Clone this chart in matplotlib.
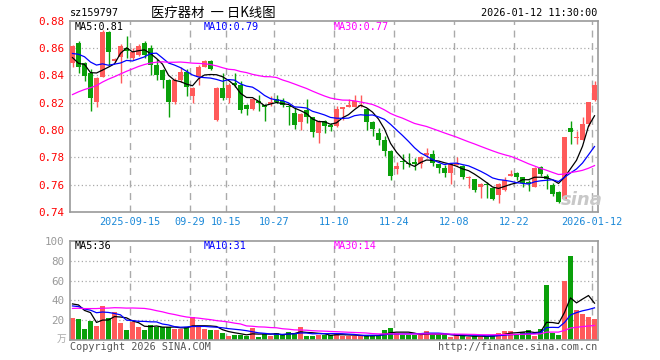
import numpy as np
import pandas as pd
import matplotlib
matplotlib.use("Agg")
import matplotlib.pyplot as plt

# ---------------- data ----------------
open_ = [0.8488, 0.8635, 0.8493, 0.8420, 0.8208, 0.8391, 0.8720, 0.8505, 0.8532, 0.8598,
         0.8525, 0.8550, 0.8640, 0.8600, 0.8476, 0.8440, 0.8366, 0.8208, 0.8366, 0.8427,
         0.8252, 0.8386, 0.8464, 0.8505, 0.8073, 0.8305, 0.8232, 0.8342, 0.8330, 0.8183,
         0.8152, 0.8215, 0.8183, 0.8190, 0.8225, 0.8215, 0.8176, 0.8127, 0.8061, 0.8146,
         0.8093, 0.7980, 0.8069, 0.8040, 0.8030, 0.8156, 0.8171, 0.8171, 0.8176, 0.8154,
         0.8059, 0.7978, 0.7927, 0.7849, 0.7717, 0.7775, 0.7761, 0.7766, 0.7751, 0.7817,
         0.7825, 0.7751, 0.7722, 0.7688, 0.7747, 0.7737, 0.7649, 0.7639, 0.7581, 0.7605,
         0.7578, 0.7527, 0.7561, 0.7666, 0.7688, 0.7654, 0.7622, 0.7585, 0.7727, 0.7666,
         0.7598, 0.7544, 0.7495, 0.8017, 0.7939, 0.7927, 0.8042, 0.8220]
high = [0.8620, 0.8652, 0.8500, 0.8445, 0.8390, 0.8735, 0.8725, 0.8530, 0.8630, 0.8688,
        0.8598, 0.8630, 0.8652, 0.8625, 0.8518, 0.8445, 0.8370, 0.8378, 0.8459, 0.8444,
        0.8318, 0.8476, 0.8513, 0.8513, 0.8313, 0.8415, 0.8342, 0.8420, 0.8359, 0.8190,
        0.8232, 0.8256, 0.8190, 0.8249, 0.8256, 0.8232, 0.8183, 0.8171, 0.8127, 0.8225,
        0.8098, 0.8076, 0.8076, 0.8049, 0.8176, 0.8171, 0.8230, 0.8256, 0.8256, 0.8160,
        0.8069, 0.8012, 0.7956, 0.7854, 0.7768, 0.7825, 0.7832, 0.7793, 0.7810, 0.7871,
        0.7854, 0.7751, 0.7744, 0.7761, 0.7800, 0.7744, 0.7666, 0.7639, 0.7610, 0.7622,
        0.7585, 0.7610, 0.7659, 0.7707, 0.7695, 0.7654, 0.7634, 0.7727, 0.7734, 0.7678,
        0.7610, 0.7554, 0.7951, 0.8069, 0.7993, 0.8098, 0.8208, 0.8361]
low = [0.8464, 0.8415, 0.8361, 0.8142, 0.8171, 0.8385, 0.8476, 0.8495, 0.8342, 0.8525,
       0.8515, 0.8540, 0.8525, 0.8403, 0.8366, 0.8305, 0.8093, 0.8191, 0.8354, 0.8252,
       0.8196, 0.8330, 0.8459, 0.8437, 0.8066, 0.8220, 0.8200, 0.8317, 0.8127, 0.8110,
       0.8145, 0.8142, 0.8069, 0.8176, 0.8198, 0.8166, 0.8037, 0.8005, 0.8000, 0.8054,
       0.7947, 0.7903, 0.7980, 0.7996, 0.8025, 0.8076, 0.8166, 0.8166, 0.8166, 0.8000,
       0.7956, 0.7890, 0.7810, 0.7634, 0.7678, 0.7712, 0.7730, 0.7705, 0.7720, 0.7795,
       0.7737, 0.7688, 0.7654, 0.7605, 0.7744, 0.7639, 0.7573, 0.7549, 0.7500, 0.7500,
       0.7488, 0.7468, 0.7556, 0.7661, 0.7634, 0.7581, 0.7556, 0.7580, 0.7661, 0.7571,
       0.7520, 0.7464, 0.7488, 0.7898, 0.7898, 0.7927, 0.8032, 0.8212]
close = [0.8615, 0.8464, 0.8398, 0.8232, 0.8378, 0.8720, 0.8574, 0.8517, 0.8615, 0.8580,
         0.8574, 0.8615, 0.8550, 0.8476, 0.8403, 0.8366, 0.8208, 0.8366, 0.8427, 0.8313,
         0.8305, 0.8464, 0.8505, 0.8444, 0.8305, 0.8232, 0.8330, 0.8330, 0.8147, 0.8152,
         0.8227, 0.8195, 0.8170, 0.8208, 0.8208, 0.8183, 0.8166, 0.8037, 0.8117, 0.8098,
         0.7988, 0.8069, 0.8030, 0.8025, 0.8152, 0.8171, 0.8183, 0.8215, 0.8186, 0.8061,
         0.8010, 0.7929, 0.7849, 0.7664, 0.7737, 0.7768, 0.7749, 0.7751, 0.7805, 0.7829,
         0.7756, 0.7725, 0.7688, 0.7751, 0.7756, 0.7659, 0.7659, 0.7561, 0.7603, 0.7598,
         0.7495, 0.7605, 0.7634, 0.7678, 0.7654, 0.7610, 0.7605, 0.7725, 0.7678, 0.7639,
         0.7532, 0.7471, 0.7951, 0.7988, 0.7951, 0.8044, 0.8208, 0.8330]
volume = [22.8, 21.4, 11.4, 19.7, 14.4, 34.5, 22.1, 28.4, 17.4, 10.4,
          18.7, 13.7, 10.4, 15.4, 13.7, 13.1, 13.1, 11.4, 11.4, 13.1,
          23.4, 13.7, 11.4, 10.4, 10.4, 7.4, 4.4, 5.4, 5.4, 4.7,
          12.4, 3.3, 6.0, 4.4, 7.4, 6.0, 8.4, 7.4, 13.4, 4.4,
          4.4, 5.4, 5.4, 5.4, 7.4, 4.4, 4.4, 4.4, 4.4, 4.4,
          5.4, 5.4, 10.4, 12.4, 7.4, 5.4, 5.4, 5.4, 5.4, 9.4,
          5.4, 5.4, 5.4, 3.3, 5.4, 4.4, 3.3, 4.4, 3.3, 4.4,
          5.4, 7.4, 9.4, 9.4, 6.4, 8.4, 10.4, 4.4, 11.4, 55.6,
          7.4, 5.4, 59.9, 84.7, 30.5, 26.4, 23.4, 21.4]
# sessions before the first visible day (only feed the moving averages)
prior_close = [0.786, 0.789, 0.784, 0.790, 0.795, 0.793, 0.798, 0.802, 0.800, 0.805,
               0.808, 0.812, 0.815, 0.822, 0.828, 0.831, 0.836, 0.838, 0.842, 0.844,
               0.852, 0.858, 0.862, 0.860, 0.863, 0.8674, 0.8438, 0.8532, 0.8391]
prior_volume = [16, 22, 19, 14, 24, 18, 17, 21, 19, 15, 20, 17.5,
                42, 55, 48, 60, 45, 52, 47, 43.5,
                28, 36, 31, 40, 27.5, 26.4, 38.9, 30.7, 63.7]

tick_index = [10, 20, 26, 34, 44, 54, 64, 74, 87]
tick_labels = ["2025-09-15", "09-29", "10-15", "10-27", "11-10",
               "11-24", "12-08", "12-22", "2026-01-12"]
price_ticks = [0.74, 0.76, 0.78, 0.80, 0.82, 0.84, 0.86, 0.88]
vol_ticks = [20, 40, 60, 80, 100]
price_ma_labels = ["MA5:0.81", "MA10:0.79", "MA30:0.77"]
vol_ma_labels = ["MA5:36", "MA10:31", "MA30:14"]

# ---------------- style ----------------
W, H = 660, 360
RED = "#ff5a5a"
GREEN = "#0aa00a"
MA_COLORS = ["#000000", "#0000ff", "#ff00ff"]
GRID = "#aaaaaa"
FRAME = "#9a9a9a"
MONO = "DejaVu Sans Mono"
CJK = ["Noto Sans CJK SC", "DejaVu Sans"]
FS = 7.3

fig = plt.figure(figsize=(W / 100, H / 100), dpi=100)
fig.patch.set_facecolor("white")


def rect(l, t, r, b):
    return [l / W, 1 - b / H, (r - l) / W, (b - t) / H]


def ftext(x, y, s, **kw):
    fig.text(x / W, 1 - y / H, s, **kw)


ax = fig.add_axes(rect(70, 20.7, 597.5, 212))
axv = fig.add_axes(rect(70, 240.7, 597.5, 340.3))

n = len(close)
idx = np.arange(n)
o = np.array(open_); c = np.array(close); h = np.array(high); l = np.array(low)
v = np.array(volume)
up = c >= o
colors = [RED if u else GREEN for u in up]

full_c = pd.Series(prior_close + close)
full_v = pd.Series(prior_volume + volume)
ma_p = [full_c.rolling(k).mean().values[-n:] for k in (5, 10, 30)]
ma_v = [full_v.rolling(k).mean().values[-n:] for k in (5, 10, 30)]

xl = (-2.5 / 6, n - 0.5)
bw = 5 / 6

for a in (ax, axv):
    a.set_xlim(*xl)
    for s in a.spines.values():
        s.set_color(FRAME)
        s.set_linewidth(1.2)
    a.set_xticks([])
    a.tick_params(axis="y", length=0, pad=4)
    for ti in tick_index:
        a.axvline(ti - 2.5 / 6, color=GRID, lw=1.0, ls=(0, (5, 4)), zorder=0)

# ---- price panel ----
ax.set_ylim(price_ticks[0], price_ticks[-1])
ax.set_yticks(price_ticks)
ax.set_yticklabels([f"{t:.2f}" for t in price_ticks], color="#ff0000",
                   fontsize=FS + 0.5, family=MONO)
for t in price_ticks[1:-1]:
    ax.axhline(t, color=GRID, lw=0.9, ls=(0, (1, 2)), zorder=0)

body = np.maximum(np.abs(c - o), 0.0008)
ax.vlines(idx, l, h, colors=colors, lw=1.0, zorder=2)
ax.bar(idx, body, bottom=np.minimum(o, c), width=bw, color=colors, lw=0, zorder=3)
for m, col in zip(ma_p, MA_COLORS):
    ax.plot(idx, m, color=col, lw=0.9, zorder=4)

ftext(582, 200, "sina", fontsize=13, color="#c8c8c8", style="italic",
      weight="bold", ha="center", va="center", family="DejaVu Sans", zorder=1)

for s, col, x in zip(price_ma_labels, MA_COLORS, (75, 204, 334)):
    ftext(x, 27, s, color=col, fontsize=FS, family=MONO, va="center")

# ---- volume panel ----
axv.set_ylim(0, 100)
axv.set_yticks(vol_ticks)
axv.set_yticklabels([str(t) for t in vol_ticks], color="#999999",
                    fontsize=FS + 0.5, family=MONO)
for t in vol_ticks[:-1]:
    axv.axhline(t, color=GRID, lw=0.9, ls=(0, (1, 2)), zorder=0)
axv.bar(idx, v, width=bw, color=colors, lw=0, zorder=2)
for m, col in zip(ma_v, MA_COLORS):
    axv.plot(idx, m, color=col, lw=0.9, zorder=3)
for s, col, x in zip(vol_ma_labels, MA_COLORS, (75, 204, 334)):
    ftext(x, 246, s, color=col, fontsize=FS, family=MONO, va="center")
ftext(66, 339, "万", color="#aaaaaa", fontsize=7, family=CJK, ha="right", va="center")

# ---- date labels ----
for ti, lab in zip(tick_index, tick_labels):
    px = 70 + 6 * ti
    ftext(px, 222, lab, color="#1a88d8", fontsize=FS, family=MONO,
          ha="center", va="center")

# ---- header / footer ----
ftext(70, 13, "sz159797", color="#000000", fontsize=FS, family=MONO, va="center")
ftext(213, 12.5, "医疗器材  一 日K线图", color="#000000", fontsize=9.6, family=CJK,
      ha="center", va="center")
ftext(597, 13, "2026-01-12 11:30:00", color="#000000", fontsize=FS, family=MONO,
      ha="right", va="center")
ftext(70, 347, "Copyright 2026 SINA.COM", color="#555555", fontsize=FS,
      family=MONO, va="center")
ftext(597, 347, "http://finance.sina.com.cn", color="#555555", fontsize=FS,
      family=MONO, ha="right", va="center")

fig.savefig("out.png", dpi=100, facecolor="white")
